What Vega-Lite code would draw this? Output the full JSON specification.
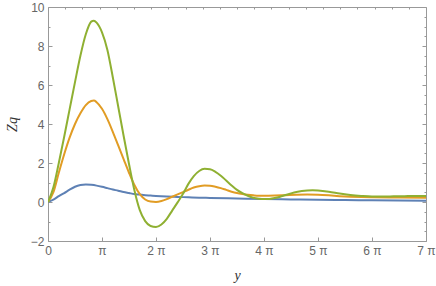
{
  "$schema": "https://vega.github.io/schema/vega-lite/v6.json",
  "width": 378,
  "height": 234,
  "autosize": "none",
  "padding": {"left": 48, "top": 7, "right": 10, "bottom": 45},
  "background": "white",
  "config": {
    "view": {"stroke": "#999999", "strokeWidth": 1},
    "axis": {
      "domainColor": "#999999",
      "tickColor": "#999999",
      "labelColor": "#666666",
      "labelFont": "Liberation Sans",
      "labelFontSize": 12,
      "labelFlush": false,
      "titleFont": "Liberation Serif",
      "titleFontStyle": "italic",
      "titleFontWeight": "normal",
      "titleFontSize": 14,
      "titleColor": "#333333",
      "grid": false,
      "labelOverlap": false
    }
  },
  "datasets": {
    "curves": [
      {"x": 0, "z": 0, "s": "a"},
      {"x": 0.1, "z": 0.12, "s": "a"},
      {"x": 0.2, "z": 0.3, "s": "a"},
      {"x": 0.3, "z": 0.46, "s": "a"},
      {"x": 0.4, "z": 0.63, "s": "a"},
      {"x": 0.5, "z": 0.78, "s": "a"},
      {"x": 0.6, "z": 0.87, "s": "a"},
      {"x": 0.7, "z": 0.9, "s": "a"},
      {"x": 0.8, "z": 0.88, "s": "a"},
      {"x": 0.9, "z": 0.84, "s": "a"},
      {"x": 1.0, "z": 0.78, "s": "a"},
      {"x": 1.1, "z": 0.71, "s": "a"},
      {"x": 1.2, "z": 0.64, "s": "a"},
      {"x": 1.3, "z": 0.58, "s": "a"},
      {"x": 1.4, "z": 0.51, "s": "a"},
      {"x": 1.5, "z": 0.46, "s": "a"},
      {"x": 1.6, "z": 0.41, "s": "a"},
      {"x": 1.7, "z": 0.38, "s": "a"},
      {"x": 1.8, "z": 0.35, "s": "a"},
      {"x": 1.9, "z": 0.33, "s": "a"},
      {"x": 2.0, "z": 0.31, "s": "a"},
      {"x": 2.2, "z": 0.28, "s": "a"},
      {"x": 2.4, "z": 0.26, "s": "a"},
      {"x": 2.6, "z": 0.24, "s": "a"},
      {"x": 2.8, "z": 0.22, "s": "a"},
      {"x": 3.0, "z": 0.21, "s": "a"},
      {"x": 3.5, "z": 0.18, "s": "a"},
      {"x": 4.0, "z": 0.15, "s": "a"},
      {"x": 4.5, "z": 0.13, "s": "a"},
      {"x": 5.0, "z": 0.11, "s": "a"},
      {"x": 5.5, "z": 0.1, "s": "a"},
      {"x": 6.0, "z": 0.09, "s": "a"},
      {"x": 6.5, "z": 0.08, "s": "a"},
      {"x": 7.0, "z": 0.07, "s": "a"},

      {"x": 0, "z": 0, "s": "b"},
      {"x": 0.1, "z": 0.5, "s": "b"},
      {"x": 0.2, "z": 1.5, "s": "b"},
      {"x": 0.3, "z": 2.45, "s": "b"},
      {"x": 0.4, "z": 3.3, "s": "b"},
      {"x": 0.5, "z": 4.0, "s": "b"},
      {"x": 0.6, "z": 4.55, "s": "b"},
      {"x": 0.7, "z": 4.97, "s": "b"},
      {"x": 0.8, "z": 5.18, "s": "b"},
      {"x": 0.85, "z": 5.2, "s": "b"},
      {"x": 0.9, "z": 5.12, "s": "b"},
      {"x": 1.0, "z": 4.78, "s": "b"},
      {"x": 1.1, "z": 4.25, "s": "b"},
      {"x": 1.2, "z": 3.6, "s": "b"},
      {"x": 1.3, "z": 2.9, "s": "b"},
      {"x": 1.4, "z": 2.2, "s": "b"},
      {"x": 1.5, "z": 1.5, "s": "b"},
      {"x": 1.6, "z": 0.87, "s": "b"},
      {"x": 1.7, "z": 0.4, "s": "b"},
      {"x": 1.8, "z": 0.13, "s": "b"},
      {"x": 1.9, "z": 0.02, "s": "b"},
      {"x": 2.0, "z": 0.0, "s": "b"},
      {"x": 2.1, "z": 0.05, "s": "b"},
      {"x": 2.2, "z": 0.15, "s": "b"},
      {"x": 2.3, "z": 0.27, "s": "b"},
      {"x": 2.4, "z": 0.39, "s": "b"},
      {"x": 2.5, "z": 0.51, "s": "b"},
      {"x": 2.6, "z": 0.63, "s": "b"},
      {"x": 2.7, "z": 0.74, "s": "b"},
      {"x": 2.8, "z": 0.81, "s": "b"},
      {"x": 2.9, "z": 0.84, "s": "b"},
      {"x": 3.0, "z": 0.83, "s": "b"},
      {"x": 3.1, "z": 0.78, "s": "b"},
      {"x": 3.2, "z": 0.71, "s": "b"},
      {"x": 3.3, "z": 0.62, "s": "b"},
      {"x": 3.4, "z": 0.53, "s": "b"},
      {"x": 3.5, "z": 0.46, "s": "b"},
      {"x": 3.6, "z": 0.41, "s": "b"},
      {"x": 3.7, "z": 0.37, "s": "b"},
      {"x": 3.8, "z": 0.34, "s": "b"},
      {"x": 3.9, "z": 0.32, "s": "b"},
      {"x": 4.0, "z": 0.32, "s": "b"},
      {"x": 4.2, "z": 0.33, "s": "b"},
      {"x": 4.4, "z": 0.35, "s": "b"},
      {"x": 4.6, "z": 0.37, "s": "b"},
      {"x": 4.8, "z": 0.38, "s": "b"},
      {"x": 5.0, "z": 0.37, "s": "b"},
      {"x": 5.2, "z": 0.34, "s": "b"},
      {"x": 5.4, "z": 0.3, "s": "b"},
      {"x": 5.6, "z": 0.27, "s": "b"},
      {"x": 5.8, "z": 0.25, "s": "b"},
      {"x": 6.0, "z": 0.24, "s": "b"},
      {"x": 6.5, "z": 0.23, "s": "b"},
      {"x": 7.0, "z": 0.22, "s": "b"},

      {"x": 0, "z": 0, "s": "c"},
      {"x": 0.1, "z": 0.75, "s": "c"},
      {"x": 0.2, "z": 2.0, "s": "c"},
      {"x": 0.3, "z": 3.35, "s": "c"},
      {"x": 0.4, "z": 4.75, "s": "c"},
      {"x": 0.5, "z": 6.15, "s": "c"},
      {"x": 0.6, "z": 7.5, "s": "c"},
      {"x": 0.7, "z": 8.6, "s": "c"},
      {"x": 0.8, "z": 9.25, "s": "c"},
      {"x": 0.85, "z": 9.3, "s": "c"},
      {"x": 0.9, "z": 9.2, "s": "c"},
      {"x": 1.0, "z": 8.7, "s": "c"},
      {"x": 1.1, "z": 7.8, "s": "c"},
      {"x": 1.2, "z": 6.4, "s": "c"},
      {"x": 1.3, "z": 4.9, "s": "c"},
      {"x": 1.4, "z": 3.4, "s": "c"},
      {"x": 1.5, "z": 1.95, "s": "c"},
      {"x": 1.6, "z": 0.6, "s": "c"},
      {"x": 1.7, "z": -0.42, "s": "c"},
      {"x": 1.8, "z": -0.98, "s": "c"},
      {"x": 1.9, "z": -1.23, "s": "c"},
      {"x": 2.0, "z": -1.28, "s": "c"},
      {"x": 2.1, "z": -1.15, "s": "c"},
      {"x": 2.2, "z": -0.86, "s": "c"},
      {"x": 2.3, "z": -0.44, "s": "c"},
      {"x": 2.4, "z": -0.02, "s": "c"},
      {"x": 2.5, "z": 0.42, "s": "c"},
      {"x": 2.6, "z": 0.93, "s": "c"},
      {"x": 2.7, "z": 1.33, "s": "c"},
      {"x": 2.8, "z": 1.59, "s": "c"},
      {"x": 2.9, "z": 1.7, "s": "c"},
      {"x": 3.0, "z": 1.68, "s": "c"},
      {"x": 3.1, "z": 1.55, "s": "c"},
      {"x": 3.2, "z": 1.35, "s": "c"},
      {"x": 3.3, "z": 1.1, "s": "c"},
      {"x": 3.4, "z": 0.85, "s": "c"},
      {"x": 3.5, "z": 0.62, "s": "c"},
      {"x": 3.6, "z": 0.45, "s": "c"},
      {"x": 3.7, "z": 0.32, "s": "c"},
      {"x": 3.8, "z": 0.22, "s": "c"},
      {"x": 3.9, "z": 0.17, "s": "c"},
      {"x": 4.0, "z": 0.15, "s": "c"},
      {"x": 4.1, "z": 0.16, "s": "c"},
      {"x": 4.2, "z": 0.2, "s": "c"},
      {"x": 4.3, "z": 0.27, "s": "c"},
      {"x": 4.4, "z": 0.36, "s": "c"},
      {"x": 4.5, "z": 0.44, "s": "c"},
      {"x": 4.6, "z": 0.51, "s": "c"},
      {"x": 4.7, "z": 0.56, "s": "c"},
      {"x": 4.8, "z": 0.59, "s": "c"},
      {"x": 4.9, "z": 0.6, "s": "c"},
      {"x": 5.0, "z": 0.59, "s": "c"},
      {"x": 5.2, "z": 0.53, "s": "c"},
      {"x": 5.4, "z": 0.44, "s": "c"},
      {"x": 5.6, "z": 0.36, "s": "c"},
      {"x": 5.8, "z": 0.31, "s": "c"},
      {"x": 6.0, "z": 0.28, "s": "c"},
      {"x": 6.2, "z": 0.28, "s": "c"},
      {"x": 6.4, "z": 0.29, "s": "c"},
      {"x": 6.6, "z": 0.3, "s": "c"},
      {"x": 6.8, "z": 0.31, "s": "c"},
      {"x": 7.0, "z": 0.31, "s": "c"}
    ]
  },
  "layer": [
    {
      "mark": {"type": "rule", "color": "#b5b5b5", "strokeWidth": 1},
      "encoding": {"y": {"datum": 0, "type": "quantitative", "axis": null}}
    },
    {
      "data": {"name": "curves"},
      "mark": {"type": "line", "strokeWidth": 2, "interpolate": "monotone", "clip": true},
      "encoding": {
        "x": {
          "field": "x", "type": "quantitative",
          "scale": {"domain": [0, 7], "nice": false, "zero": false},
          "axis": {
            "orient": "bottom",
            "title": "y",
            "values": [0, 1, 2, 3, 4, 5, 6, 7],
            "labelExpr": "datum.value == 0 ? '0' : (datum.value == 1 ? 'π' : datum.value + ' π')",
            "tickSize": -4,
            "labelPadding": 8,
            "titlePadding": 12,
            "domain": false
          }
        },
        "y": {
          "field": "z", "type": "quantitative",
          "scale": {"domain": [-2, 10], "nice": false, "zero": false},
          "axis": {
            "orient": "left",
            "title": "Zq",
            "format": "d",
            "values": [-2, -1.5, -1, -0.5, 0, 0.5, 1, 1.5, 2, 2.5, 3, 3.5, 4, 4.5, 5, 5.5, 6, 6.5, 7, 7.5, 8, 8.5, 9, 9.5, 10],
            "labelExpr": "datum.value % 2 == 0 ? datum.label : ''",
            "tickSize": {"condition": {"test": "datum.value % 2 == 0", "value": -4}, "value": -2},
            "labelPadding": 8,
            "titlePadding": 11,
            "domain": false
          }
        },
        "color": {
          "field": "s", "type": "nominal", "legend": null,
          "scale": {"domain": ["a", "b", "c"], "range": ["#5e81b5", "#e19c24", "#8fb032"]}
        }
      }
    },
    {
      "data": {"name": "curves"},
      "mark": {"type": "line", "opacity": 0},
      "encoding": {
        "x": {
          "field": "x", "type": "quantitative",
          "axis": {
            "orient": "top", "title": null, "labels": false, "domain": false,
            "values": [0.3183, 0.6366, 0.9549, 1.2732, 1.5915, 1.9099, 2.2282, 2.5465, 2.8648, 3.1831, 3.5014, 3.8197, 4.138, 4.4563, 4.7746, 5.093, 5.4113, 5.7296, 6.0479, 6.3662, 6.6845],
            "tickSize": -2
          }
        },
        "y": {
          "field": "z", "type": "quantitative",
          "axis": {
            "orient": "right", "title": null, "labels": false, "domain": false,
            "values": [-2, -1.5, -1, -0.5, 0, 0.5, 1, 1.5, 2, 2.5, 3, 3.5, 4, 4.5, 5, 5.5, 6, 6.5, 7, 7.5, 8, 8.5, 9, 9.5, 10],
            "tickSize": {"condition": {"test": "datum.value % 2 == 0", "value": -4}, "value": -2}
          }
        }
      }
    }
  ],
  "resolve": {"axis": {"x": "independent", "y": "independent"}}
}
